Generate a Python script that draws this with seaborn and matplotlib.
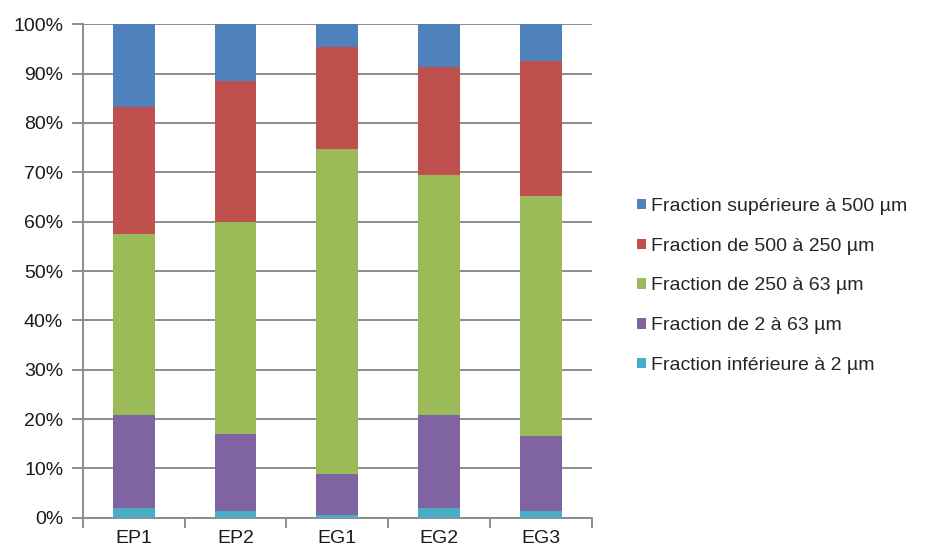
import matplotlib
matplotlib.use("Agg")
import matplotlib.pyplot as plt
from matplotlib.patches import Patch
from matplotlib.ticker import FixedLocator, PercentFormatter
import numpy as np
import pandas as pd
import seaborn as sns

# Samples and grain-size fractions (% of total mass)
samples = ["EP1", "EP2", "EG1", "EG2", "EG3"]
frac_lt2 = [1.9, 1.4, 0.6, 1.9, 1.4]          # Fraction inférieure à 2 µm
frac_2_63 = [19.0, 15.5, 8.2, 19.0, 15.1]     # Fraction de 2 à 63 µm
frac_63_250 = [36.7, 43.1, 65.9, 48.5, 48.8]  # Fraction de 250 à 63 µm
frac_250_500 = [25.6, 28.5, 20.7, 21.9, 27.3] # Fraction de 500 à 250 µm
frac_gt500 = [16.8, 11.5, 4.6, 8.7, 7.4]      # Fraction supérieure à 500 µm

labels = [
    "Fraction inférieure à 2 µm",
    "Fraction de 2 à 63 µm",
    "Fraction de 250 à 63 µm",
    "Fraction de 500 à 250 µm",
    "Fraction supérieure à 500 µm",
]
colors = ["#4BACC6", "#8064A2", "#9BBB59", "#C0504D", "#4F81BD"]

series = [frac_lt2, frac_2_63, frac_63_250, frac_250_500, frac_gt500]
df = pd.DataFrame({lab: vals for lab, vals in zip(labels, series)}, index=samples)
cum = df.cumsum(axis=1)

sns.set_theme(style="white")
plt.rcParams["font.family"] = ["Liberation Sans", "DejaVu Sans"]

fig = plt.figure(figsize=(9.28, 5.51), dpi=100)
ax = fig.add_axes([0.0891, 0.0604, 0.5489, 0.8955])

# Stacked bars: draw cumulative totals from the top segment down
for lab, col in reversed(list(zip(labels, colors))):
    sns.barplot(x=samples, y=cum[lab].values, color=col, width=0.41,
                saturation=1, ax=ax, edgecolor="none", linewidth=0, zorder=3)

ax.set_ylim(0, 100)
ax.set_xlim(-0.5, 4.5)
ax.yaxis.set_major_locator(FixedLocator(np.arange(0, 101, 10)))
ax.yaxis.set_major_formatter(PercentFormatter(decimals=0))
ax.grid(axis="y", color="#8c8c8c", linewidth=1.4, zorder=0)
ax.grid(axis="x", visible=False)
ax.set_axisbelow(True)

for side in ["top", "right"]:
    ax.spines[side].set_visible(False)
for side in ["left", "bottom"]:
    ax.spines[side].set_color("#8c8c8c")
    ax.spines[side].set_linewidth(1.4)

ax.set_xticks(range(len(samples)))
ax.set_xticklabels(samples)
ax.xaxis.set_minor_locator(FixedLocator(np.arange(-0.5, 5, 1)))
ax.tick_params(axis="x", which="major", length=0, pad=9, labelsize=14, colors="#1a1a1a")
ax.tick_params(axis="x", which="minor", bottom=True, length=7, width=1.4, color="#8c8c8c")
ax.tick_params(axis="y", which="major", left=True, length=8, width=1.4, color="#8c8c8c",
               pad=6, labelsize=14, labelcolor="#1a1a1a")
ax.set_xlabel("")
ax.set_ylabel("")

handles = [Patch(facecolor=c, edgecolor="none") for c in reversed(colors)]
fig.legend(handles, list(reversed(labels)), loc="center left",
           bbox_to_anchor=(0.678, 0.481), frameon=False, fontsize=14,
           handlelength=0.45, handleheight=0.45, handletextpad=0.25,
           labelspacing=1.17, borderaxespad=0)

fig.savefig("out.png", dpi=100)
